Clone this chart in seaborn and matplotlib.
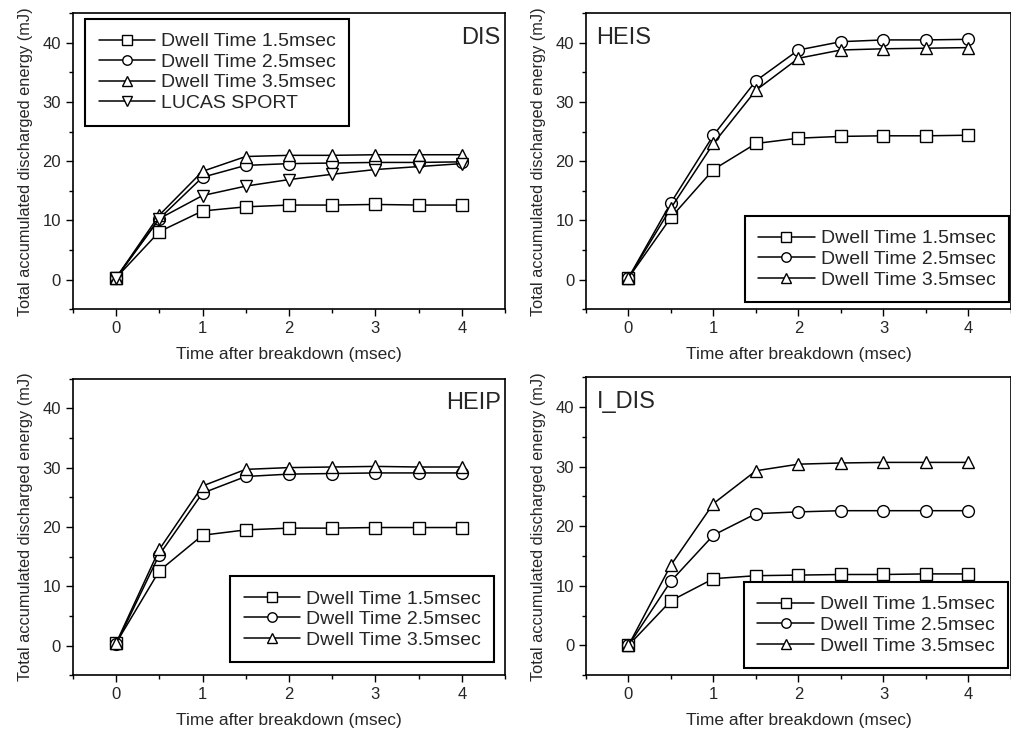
import matplotlib
matplotlib.use("Agg")
import pandas as pd
import seaborn as sns
import matplotlib.pyplot as plt
from matplotlib.ticker import MultipleLocator

# --- data ---
time_ms = [0, 0.5, 1, 1.5, 2, 2.5, 3, 3.5, 4]

dis_15 = [0.3, 8.1, 11.6, 12.3, 12.6, 12.6, 12.7, 12.6, 12.6]
dis_25 = [0.3, 10.3, 17.3, 19.3, 19.6, 19.7, 19.8, 19.8, 19.9]
dis_35 = [0.3, 10.9, 18.3, 20.8, 21.0, 21.0, 21.1, 21.1, 21.1]
dis_lucas = [0.3, 10.3, 14.2, 15.8, 16.9, 17.8, 18.6, 19.1, 19.6]

heis_15 = [0.3, 10.5, 18.6, 23.0, 23.9, 24.2, 24.3, 24.3, 24.4]
heis_25 = [0.3, 13.0, 24.4, 33.6, 38.8, 40.2, 40.5, 40.5, 40.6]
heis_35 = [0.3, 12.1, 23.0, 32.0, 37.4, 38.8, 39.0, 39.1, 39.2]

heip_15 = [0.4, 12.6, 18.6, 19.5, 19.8, 19.8, 19.9, 19.9, 19.9]
heip_25 = [0.2, 15.3, 25.7, 28.5, 28.9, 29.0, 29.1, 29.1, 29.1]
heip_35 = [0.4, 16.2, 26.9, 29.7, 30.0, 30.1, 30.2, 30.1, 30.1]

idis_15 = [0.0, 7.5, 11.2, 11.7, 11.8, 11.9, 11.9, 12.0, 12.0]
idis_25 = [0.0, 10.8, 18.5, 22.1, 22.4, 22.6, 22.6, 22.6, 22.6]
idis_35 = [0.0, 13.5, 23.8, 29.3, 30.4, 30.6, 30.7, 30.7, 30.7]

labels = ["Dwell Time 1.5msec", "Dwell Time 2.5msec", "Dwell Time 3.5msec", "LUCAS SPORT"]
markers = ["s", "o", "^", "v"]

panels = [
    ("DIS", [dis_15, dis_25, dis_35, dis_lucas]),
    ("HEIS", [heis_15, heis_25, heis_35]),
    ("HEIP", [heip_15, heip_25, heip_35]),
    ("I_DIS", [idis_15, idis_25, idis_35]),
]

# layout in figure fractions [left, bottom, width, height]
boxes = [
    [0.072, 0.581, 0.427, 0.401],
    [0.579, 0.581, 0.420, 0.401],
    [0.072, 0.085, 0.427, 0.402],
    [0.579, 0.085, 0.420, 0.404],
]
# title text: (x, y, ha)
tags = [(0.99, 0.955, "right"), (0.025, 0.955, "left"), (0.99, 0.955, "right"), (0.025, 0.955, "left")]
# legend placement: (loc, anchor in axes coords)
leg_pos = [
    ("upper left", (0.028, 0.98)),
    ("lower right", (0.995, 0.024)),
    ("lower right", (0.975, 0.044)),
    ("lower right", (0.993, 0.024)),
]

sns.set_theme(style="ticks")
plt.rcParams['font.family'] = ['Liberation Sans', 'DejaVu Sans']

fig = plt.figure(figsize=(10.12, 7.38), dpi=100)

for i, (name, series) in enumerate(panels):
    ax = fig.add_axes(boxes[i])
    for j, vals in enumerate(series):
        df = pd.DataFrame({"time": time_ms, "energy": vals})
        sns.lineplot(data=df, x="time", y="energy", ax=ax, color="black",
                     marker=markers[j], markersize=8.5, mfc="white", mec="black",
                     mew=1.0, linewidth=1.1, errorbar=None, label=labels[j])
    ax.set_xlim(-0.5, 4.5)
    ax.set_ylim(-5, 45)
    ax.xaxis.set_major_locator(MultipleLocator(1))
    ax.xaxis.set_minor_locator(MultipleLocator(0.5))
    ax.yaxis.set_major_locator(MultipleLocator(10))
    ax.yaxis.set_minor_locator(MultipleLocator(5))
    ax.tick_params(which="major", direction="out", length=5, width=1, labelsize=12, color="black")
    ax.tick_params(which="minor", direction="out", length=3, width=1, color="black")
    for sp in ax.spines.values():
        sp.set_visible(True)
        sp.set_color("black")
        sp.set_linewidth(1.2)
    ax.set_xlabel("Time after breakdown (msec)", fontsize=12.5, labelpad=8)
    ax.set_ylabel("Total accumulated discharged energy (mJ)", fontsize=11.8, labelpad=7)
    tx, ty, ha = tags[i]
    ax.text(tx, ty, name, transform=ax.transAxes, ha=ha, va="top", fontsize=17)
    loc, anchor = leg_pos[i]
    leg = ax.legend(loc=loc, bbox_to_anchor=anchor, fontsize=14,
                    frameon=True, fancybox=False, framealpha=1, edgecolor="black",
                    handlelength=2.9, handletextpad=0.3, labelspacing=0.15,
                    borderpad=0.7, borderaxespad=0, numpoints=1, markerscale=0.8)
    leg.get_frame().set_linewidth(1.5)

plt.savefig("out.png", dpi=100)
